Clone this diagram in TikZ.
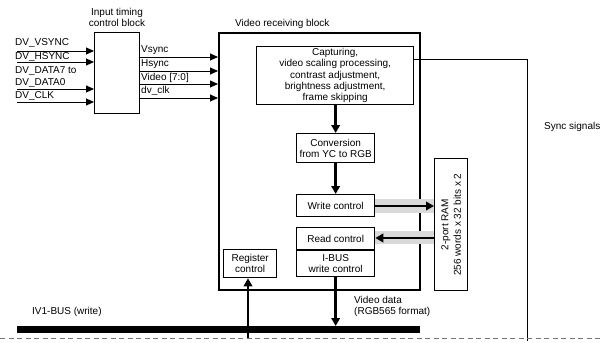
\documentclass[tikz,border=0pt]{standalone}
\usepackage{fontspec}
\setmainfont{Liberation Sans}
\usetikzlibrary{arrows.meta}
\begin{document}
\begin{tikzpicture}[x=1pt,y=-1pt,
  every node/.style={font=\fontsize{10}{11}\selectfont, inner sep=0pt},
  box/.style={draw, line width=1.3pt, anchor=north west, align=center},
  lbl/.style={anchor=west},
  thin arrow/.style={line width=0.9pt, -{Triangle[length=8pt,width=7pt]}},
  thick arrow/.style={line width=2.4pt, -{Triangle[length=8pt,width=8.5pt]}},
  band/.style={fill=black!15, draw=none}
]
\useasboundingbox (0,0) rectangle (603,343);

% boxes
\node[box, minimum width=45pt, minimum height=81pt] (itb) at (94,32) {};
\node[box, line width=1.5pt, minimum width=201pt, minimum height=257pt] (vrb) at (218,32) {};
\node[box, minimum width=157pt, minimum height=58pt, font=\fontsize{10}{11.3}\selectfont] (cap) at (256,46)
  {Capturing,\\video scaling processing,\\contrast adjustment,\\brightness adjustment,\\frame skipping};
\node[box, minimum width=78pt, minimum height=29pt] (conv) at (296,133) {Conversion\\from YC to RGB};
\node[box, minimum width=78pt, minimum height=22pt] (wc) at (296,194) {Write control};
\node[box, minimum width=78pt, minimum height=22pt] (rc) at (296,227) {Read control};
\node[box, minimum width=78pt, minimum height=27pt] (ibus) at (296,249) {I-BUS\\write control};
\draw[line width=1.3pt] (rc.south west) -- (rc.south east);
\node[box, minimum width=53pt, minimum height=28pt] (reg) at (223,249) {Register\\control};
\node[box, minimum width=33pt, minimum height=132pt] (ram) at (434,158) {};
\node[rotate=90, align=center, font=\fontsize{10}{12.5}\selectfont] (ramtxt) at (ram.center) {2-port RAM\\256 words x 32 bits x 2};
\node[fill=black, minimum width=403pt, minimum height=7pt, anchor=north west] (bus) at (17,326) {};

% labels
\node[align=center] (itbl) at (117,17.5) {Input timing\\control block};
\node[lbl] (vrbl) at (235,24) {Video receiving block};
\node[lbl] (l1) at (15,43) {DV\_VSYNC};
\node[lbl] (l2) at (15,57) {DV\_HSYNC};
\node[lbl] (l3) at (15,71) {DV\_DATA7 to};
\node[lbl] (l4) at (15,83) {DV\_DATA0};
\node[lbl] (l5) at (15,96) {DV\_CLK};
\node[lbl] (o1) at (141,50) {Vsync};
\node[lbl] (o2) at (141,64) {Hsync};
\node[lbl] (o3) at (141,77.5) {Video [7:0]};
\node[lbl] (o4) at (141,90.5) {dv\_clk};
\node[lbl] (busl) at (32,312) {IV1-BUS (write)};
\node[lbl, align=left] (vdl) at (354,306.5) {Video data\\(RGB565 format)};
\node[lbl] (syncl) at (544,127) {Sync signals};

% input arrows
\coordinate (i1) at (17,51);
\coordinate (i2) at (17,62);
\coordinate (i3) at (17,89);
\coordinate (i4) at (17,102);
\foreach \c in {i1,i2,i3,i4}
  \draw[thin arrow] (\c) -- (\c -| itb.west);

% output arrows
\foreach \y in {57,71,84,98}
  \draw[thin arrow] (itb.east |- 0,\y) -- (vrb.west |- 0,\y);

% sync line
\coordinate (sc) at (527,59);
\coordinate (sd) at (527,341);
\draw[line width=1pt] (cap.east |- sc) -- (sc) -- (sd);

% internal arrows
\draw[thick arrow] (conv.north |- cap.south) -- (conv.north);
\draw[thick arrow] (conv.south) -- (wc.north);

% RAM bands and arrows
\fill[band] (wc.east |- 0,199) rectangle (ram.west |- 0,213);
\fill[band] (rc.east |- 0,231) rectangle (ram.west |- 0,244);
\draw[thick arrow] (wc.east |- 0,206) -- (ram.west |- 0,206);
\draw[thick arrow] (ram.west |- 0,238) -- (rc.east |- 0,238);

% video data arrow
\draw[thick arrow] (ibus.south) -- (ibus.south |- bus.north);

% dashed line
\coordinate (dl) at (0,338);
\coordinate (dr) at (603,338);
\draw[black!55, line width=1pt, dash pattern=on 5pt off 3.5pt] (dl) -- (dr);

% register arrow
\coordinate (rb) at (248,338);
\draw[thick arrow] (rb) -- (rb |- reg.south);
\end{tikzpicture}
\end{document}
